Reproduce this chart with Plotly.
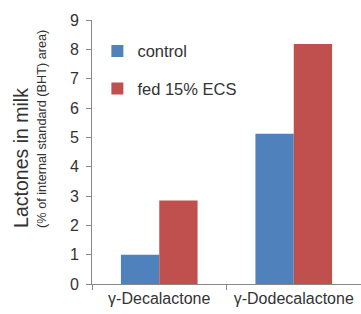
import plotly.graph_objects as go

categories = ["γ-Decalactone", "γ-Dodecalactone"]
control = [1.0, 5.12]
fed = [2.85, 8.18]
series_names = ["control", "fed 15% ECS"]
y_ticks = list(range(0, 10))

FONT = "Liberation Sans, Arial, sans-serif"
TXT = "#333333"

fig = go.Figure()
fig.add_trace(go.Bar(x=categories, y=control, name=series_names[0],
                     marker=dict(color="#4F81BD", line=dict(width=0)),
                     legendgroup="a"))
fig.add_trace(go.Bar(x=categories, y=fed, name=series_names[1],
                     marker=dict(color="#C0504D", line=dict(width=0)),
                     legendgroup="b"))

fig.update_layout(
    width=361, height=314,
    margin=dict(l=92, r=0, t=20, b=30),
    paper_bgcolor="white", plot_bgcolor="white",
    barmode="group", bargap=0.43, bargroupgap=0,
    font=dict(family=FONT, color=TXT, size=14),
    showlegend=True,
    legend=dict(x=0.02, y=0.948, xanchor="left", yanchor="top",
                bgcolor="rgba(0,0,0,0)", tracegroupgap=13,
                font=dict(size=16.5, color=TXT), itemwidth=30),
    xaxis=dict(type="category", showline=True, linecolor="#888888", linewidth=1,
               ticks="outside", tickson="boundaries", ticklen=5, tickcolor="#888888",
               tickfont=dict(size=16, color=TXT), showgrid=False, zeroline=False),
    yaxis=dict(range=[0, 9], tickvals=y_ticks, showline=True, linecolor="#888888",
               linewidth=1, ticks="outside", ticklen=5, tickcolor="#888888",
               tickfont=dict(size=16, color=TXT), showgrid=False, zeroline=False,
               ticklabelstandoff=4),
    annotations=[
        dict(text="Lactones in milk", textangle=-90, xref="paper", yref="paper",
             x=0, xshift=-71, y=0.205, xanchor="center", yanchor="bottom",
             showarrow=False, font=dict(size=19.5, color=TXT)),
        dict(text="(% of internal standard (BHT) area)", textangle=-90, xref="paper",
             yref="paper", x=0, xshift=-50, y=0.205, xanchor="center", yanchor="bottom",
             showarrow=False, font=dict(size=12.7, color=TXT)),
    ],
)

fig.write_html("out.html", config={"displayModeBar": False},
               post_script="document.body.style.margin='0';document.body.style.padding='0';")
